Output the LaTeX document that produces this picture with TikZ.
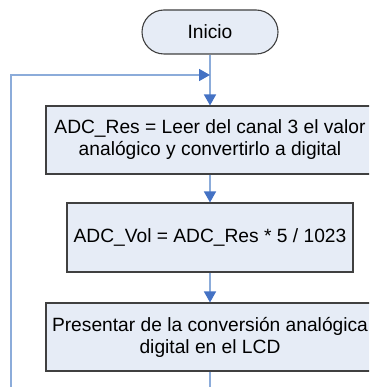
\documentclass[tikz,border=0pt]{standalone}
\usepackage{fontspec}
\setmainfont{Liberation Sans}
\usetikzlibrary{arrows.meta}

\definecolor{cajafondo}{RGB}{230,236,246}
\definecolor{cajaborde}{RGB}{64,64,64}
\definecolor{flecha}{RGB}{68,114,196}
\definecolor{linea}{RGB}{140,172,218}

\begin{document}
\begin{tikzpicture}[x=1pt, y=-1pt,
    proceso/.style={draw=cajaborde, line width=1.1pt, fill=cajafondo, inner sep=0pt,
        align=center, font=\fontsize{19.2}{22}\selectfont},
    terminal/.style={proceso, rounded corners=22pt, minimum width=136pt, minimum height=44pt},
    flujo/.style={draw=linea, line width=1.6pt, -{Triangle[length=11pt, width=12pt, color=flecha]}},
    retorno/.style={draw=linea, line width=1.6pt}]
    % Marco de la figura
    \clip (0,0) rectangle (369,387);

    % Inicio
    \node[terminal] (ini) at (210,32) {Inicio};

    % Bloques del proceso
    \node[proceso, minimum width=328pt, minimum height=68pt] (leer) at (210,140)
        {ADC\_Res = Leer del canal 3 el valor\\analógico y convertirlo a digital};
    \node[proceso, minimum width=286pt, minimum height=69pt] (calc) at (210,237.5)
        {ADC\_Vol = ADC\_Res * 5 / 1023};
    \node[proceso, minimum width=328pt, minimum height=68pt] (lcd) at (210,337)
        {Presentar de la conversión analógica\\digital en el LCD};

    % Puntos del lazo
    \coordinate (union) at (210,75);
    \coordinate (abajo) at (210,387);
    \coordinate (lazo) at (11,387);
    \coordinate (arriba) at (11,75);

    % Conexiones
    \draw[flujo] (ini) -- (leer);
    \draw[flujo] (leer) -- (calc);
    \draw[flujo] (calc) -- (lcd);
    \draw[retorno] (lcd) -- (abajo);
    \draw[flujo] (lazo) -- (arriba) -- (union);
\end{tikzpicture}
\end{document}
